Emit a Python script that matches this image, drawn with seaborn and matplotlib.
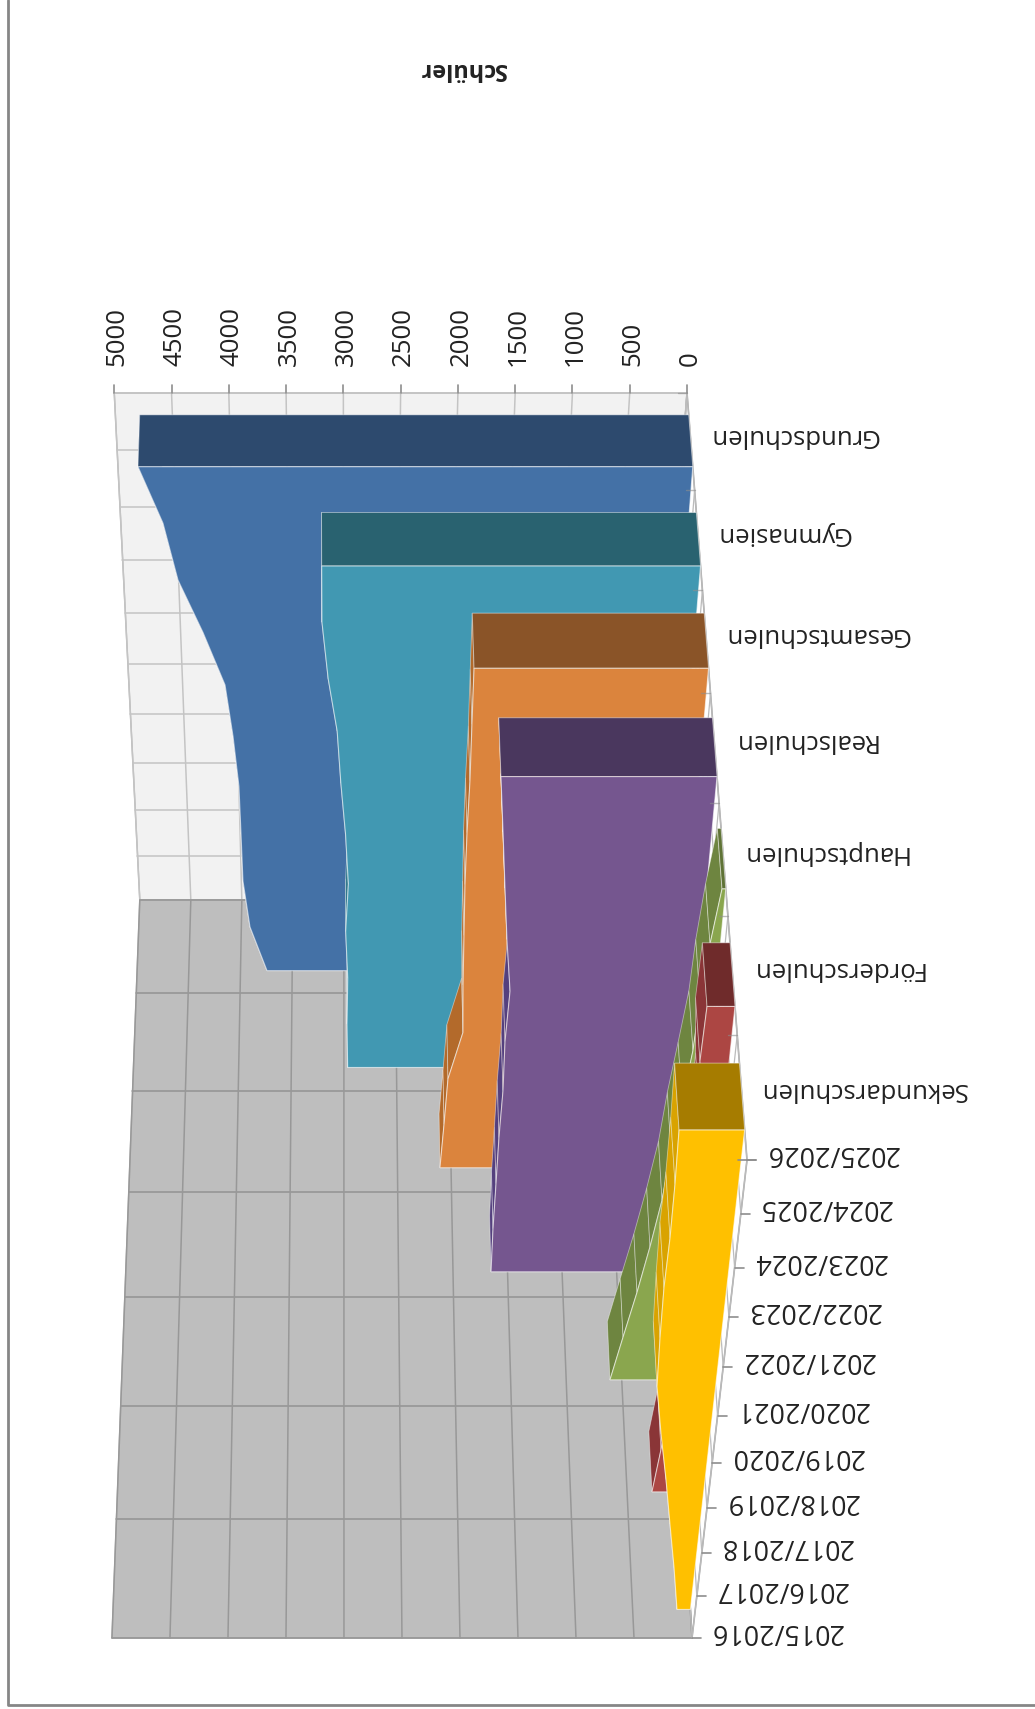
#%% Schueler 3D area chart, turned upside down like the original
import numpy as np
import pandas as pd
import seaborn as sns
import matplotlib.pyplot as plt

schools = ['Grundschulen', 'Gymnasien', 'Gesamtschulen', 'Realschulen',
           'Hauptschulen', 'Förderschulen', 'Sekundarschulen']
years = ['2015/2016', '2016/2017', '2017/2018', '2018/2019', '2019/2020', '2020/2021',
         '2021/2022', '2022/2023', '2023/2024', '2024/2025', '2025/2026']
value_ticks = [0, 500, 1000, 1500, 2000, 2500, 3000, 3500, 4000, 4500, 5000]

grundschulen = [3743, 3897, 3953, 3960, 3968, 4011, 4072, 4256, 4461, 4576, 4772]
gymnasien = [2964, 2970, 2964, 2984, 2960, 2987, 3030, 3063, 3140, 3194, 3195]
gesamtschulen = [2103, 2076, 2052, 1929, 1942, 1948, 1954, 1951, 1940, 1940, 1938]
realschulen = [1651, 1650, 1641, 1633, 1616, 1618, 1595, 1641, 1676, 1713, 1749]
hauptschulen = [606, 520, 430, 351, 283, 244, 190, 139, 121, 83, 30]
foerderschulen = [280, 237, 197, 192, 189, 195, 186, 187, 187, 230, 217]
sekundarschulen = [116, 180, 254, 326, 405, 476, 490, 497, 487, 489, 498]
series = [grundschulen, gymnasien, gesamtschulen, realschulen,
          hauptschulen, foerderschulen, sekundarschulen]

front_clrs = ['#4471A6', '#4198B2', '#DB843D', '#75568F', '#8AA64E', '#AC4643', '#FFC000']
side_clrs = ['#3A6090', '#33798C', '#B36A2B', '#54407E', '#6E8540', '#8A3537', '#D9A300']
cap_clrs = ['#2D4A6E', '#296270', '#8A5428', '#4A375E', '#5F7336', '#6F2B2B', '#A67C00']

# axis calibration of the perspective box, in pixels
depth_y_far = np.array([393, 490, 590, 693, 803, 916, 1035, 1160.])   # last year
depth_y_near = np.array([900, 993, 1091, 1192, 1297, 1406, 1519, 1638.])   # first year
year_frac = np.array([0, .087, .178, .271, .366, .465, .567, .671, .775, .888, 1.])
depth_idx = np.arange(8)
year_idx = np.arange(11)


def project(s, t, v=0):
    f = np.interp(t, year_idx, year_frac)
    y1 = np.interp(s, depth_idx, depth_y_far)
    y0 = np.interp(s, depth_idx, depth_y_near)
    x1 = 687 + (y1 - 393) / (1160 - 393) * 60
    x0 = 650 + (y0 - 900) / (1638 - 900) * 42
    per_px = 9.80 + (8.62 - 9.80) * s / 7 + (8.73 - 9.80) * t / 10
    return x0 + f * (x1 - x0) - v / per_px, y0 + f * (y1 - y0)


def grid_frame(lines):
    rows = []
    for i, pts in enumerate(lines):
        for x, y in pts:
            rows.append({'x': x, 'y': y, 'line': i})
    return pd.DataFrame(rows)


def draw_lines(lines, color, lw, zorder=1, alpha=1):
    sns.lineplot(data=grid_frame(lines), x='x', y='y', units='line', estimator=None, sort=False,
                 color=color, lw=lw, ax=ax, zorder=zorder, alpha=alpha, legend=False)


sns.set_style('white')
plt.rcParams['font.family'] = ['Open Sans', 'DejaVu Sans']

fig, ax = plt.subplots(figsize=(10.35, 17.09), dpi=100)
ax.set_position([0, 0, 1, 1])

# walls and floor
vmax = value_ticks[-1]
wall = [project(0, 10, vmax), project(0, 10), project(0, 0), project(0, 0, vmax)]
side = [project(0, 0, vmax), project(0, 0), project(7, 0), project(7, 0, vmax)]
floor = [project(0, 0), project(0, 10), project(7, 10), project(7, 0)]
ax.fill(*zip(*wall), fc='#F2F2F2', ec='#B4B4B4', lw=1, zorder=0)
ax.fill(*zip(*side), fc='#BEBEBE', ec='#B4B4B4', lw=1, zorder=0)
ax.fill(*zip(*floor), fc='white', ec='#ABABAB', lw=1.2, zorder=0)

# grid on the walls
draw_lines([[project(0, t), project(0, t, vmax)] for t in year_idx], '#C4C4C4', 1.1)
draw_lines([[project(0, 0, v), project(0, 10, v)] for v in value_ticks], '#C4C4C4', 1.1)
draw_lines([[project(s, 0), project(s, 0, vmax)] for s in depth_idx], '#929292', 1.1)
draw_lines([[project(0, 0, v), project(7, 0, v)] for v in value_ticks], '#989898', 1.1)
# grid on the floor
draw_lines([[project(0, t), project(7, t)] for t in year_idx], '#BBBBBB', 0.9)
draw_lines([[project(s, 0), project(s, 10)] for s in depth_idx], '#BBBBBB', 0.9)

# the areas, from the back to the front
band_back, band_front = 0.225, 0.76
for i, vals in enumerate(series):
    s0, s1 = i + band_back, i + band_front
    for t in range(10):
        quad = [project(s1, t, vals[t]), project(s1, t + 1, vals[t + 1]),
                project(s0, t + 1, vals[t + 1]), project(s0, t, vals[t])]
        ax.fill(*zip(*quad), fc=side_clrs[i], ec=(1, 1, 1, 0.45), lw=0.6, zorder=3 + i)
    cap = [project(s0, 10), project(s1, 10), project(s1, 10, vals[10]), project(s0, 10, vals[10])]
    ax.fill(*zip(*cap), fc=cap_clrs[i], ec=(1, 1, 1, 0.45), lw=0.7, zorder=3 + i)
    front = [project(s1, t, vals[t]) for t in year_idx] + [project(s1, 10), project(s1, 0)]
    ax.fill(*zip(*front), fc=front_clrs[i], ec=(1, 1, 1, 0.6), lw=0.8, zorder=3 + i)

# ticks
draw_lines([[(project(0, 10, v)[0], 385), (project(0, 10, v)[0], 393)] for v in value_ticks], '#8E8E8E', 1.2)
draw_lines([[project(s, 10), (project(s, 10)[0] - 9, project(s, 10)[1])] for s in depth_idx[:-1]],
           '#8E8E8E', 1, zorder=12, alpha=0.6)
draw_lines([[project(7, t), (project(7, t)[0] + 9, project(7, t)[1])] for t in year_idx], '#8E8E8E', 1.2)
x_last, y_last = project(7, 10)
draw_lines([[(x_last - 9, y_last), (x_last + 9, y_last)]], '#8E8E8E', 1.2, zorder=12)

# labels
for i, name in enumerate(schools):
    x, y = project(i + 0.45, 10)
    ax.text(x + 18, y - 1.5, name, rotation=180, rotation_mode='anchor', ha='right', va='center',
            fontsize=18.5, color='#222222')
for t, name in enumerate(years):
    x, y = project(7, t)
    ax.text(x + 18, y - 7, name, rotation=180, rotation_mode='anchor', ha='right', va='center',
            fontsize=19.4, color='#222222')
for v in value_ticks:
    x, y = project(0, 10, v)
    ax.text(x + 3, 366, str(v), rotation=90, ha='center', va='bottom', fontsize=18.6, color='#222222')
ax.text(462, 69, 'Schüler', rotation=180, ha='center', va='center', fontsize=16.8, fontweight='bold',
        color='#222222')

# chart border
draw_lines([[(8, 0), (8, 1705), (1035, 1705)]], '#868686', 2)

ax.set_xlim(0, 1035)
ax.set_ylim(1709, 0)
ax.set_axis_off()
fig.savefig('out.png', dpi=100)
